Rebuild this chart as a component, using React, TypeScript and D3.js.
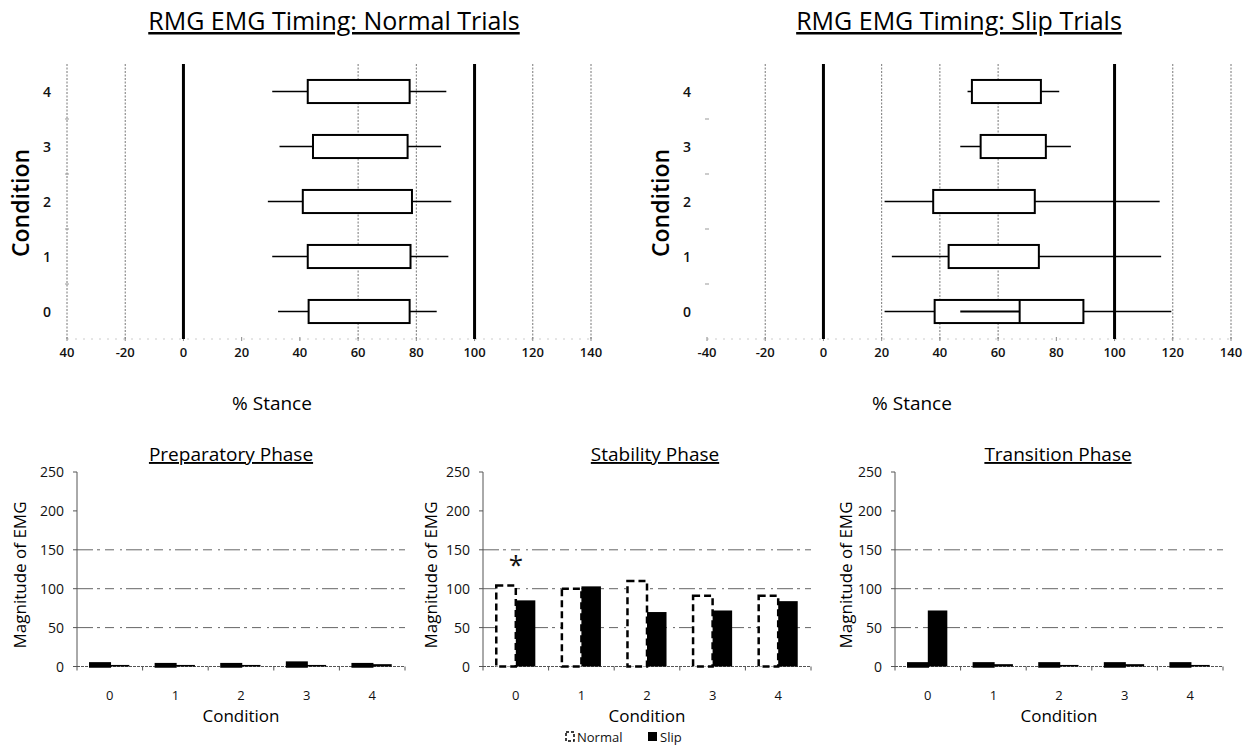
import React from 'react';
import * as d3 from 'd3';

// ---------- DATA ----------
const conditions = [0, 1, 2, 3, 4];
const stanceTicks = [-40, -20, 0, 20, 40, 60, 80, 100, 120, 140];

// Normal trials (box plot: whisker min, Q1, Q3, whisker max)
const normalMin = [32.5, 30.5, 29, 33, 30.5];
const normalQ1 = [43, 42.7, 41, 44.5, 42.7];
const normalMedian: (number | null)[] = [null, null, null, null, null];
const normalQ3 = [77.7, 78, 78.5, 77, 77.7];
const normalMax = [87, 91, 92, 88.5, 90.3];
const normalInner: ([number, number] | null)[] = [null, null, null, null, null];

// Slip trials
const slipMin = [21, 23.5, 21, 47, 49.5];
const slipQ1 = [38.2, 43, 37.7, 54, 51];
const slipMedian: (number | null)[] = [67.4, null, null, null, null];
const slipQ3 = [89.3, 74, 72.6, 76.4, 74.7];
const slipMax = [119.5, 116, 115.5, 85, 81];
const slipInner: ([number, number] | null)[] = [[47, 67.4], null, null, null, null];

const normalGrid = [-40, -20, 60, 80, 120, 140];
const slipGrid = [-20, 20, 40, 60, 120, 140];
const boldLines = [0, 100];

// Magnitude of EMG bar charts
const emgTicks = [0, 50, 100, 150, 200, 250];
const emgGrid = [50, 100, 150];
const seriesNames = ['Normal', 'Slip'];
const prepNormal = [4, 3, 3, 5, 3];
const prepSlip = [2, 2, 2, 2, 3];
const stabNormal = [104, 100, 110, 91, 91];
const stabSlip = [85, 103, 70, 72, 84];
const transNormal = [4, 4, 4, 4, 4];
const transSlip = [72, 3, 2, 3, 2];

const FONT = "'Open Sans', sans-serif";
const INK = '#111';

type TimingProps = {
  left: number; right: number; title: string; titleX: number;
  condX: number; stanceX: number;
  mins: number[]; q1s: number[]; medians: (number | null)[]; q3s: number[]; maxs: number[];
  inner: ([number, number] | null)[]; grid: number[]; minusOk: boolean;
};

function TimingPanel(p: TimingProps) {
  const x = d3.scaleLinear().domain([-40, 140]).range([p.left, p.right]);
  const y = d3.scaleLinear().domain([-0.5, 4.5]).range([339, 64]);
  const half = y(0) - y(0.21);
  const yTop = y(4.5), yBot = y(-0.5);
  return (
    <g>
      <text x={p.titleX} y={30} textAnchor="middle" fontSize={25} fontFamily={FONT}
        fill="#000" textDecoration="underline">{p.title}</text>
      {p.grid.map((v) => (
        <line key={'g' + v} x1={x(v)} x2={x(v)} y1={yTop} y2={yBot}
          stroke="#777" strokeWidth={1} strokeDasharray="2,1.5" />
      ))}
      <line x1={x(-40)} x2={x(140)} y1={yBot} y2={yBot} stroke="#ccc" strokeWidth={1} strokeDasharray="2,6" />
      {stanceTicks.map((v) => (
        <line key={'t' + v} x1={x(v)} x2={x(v)} y1={yBot - 2} y2={yBot + 2} stroke="#888" strokeWidth={1} />
      ))}
      {[0.5, 1.5, 2.5, 3.5].map((v) => (
        <line key={'m' + v} x1={x(-40) - 2} x2={x(-40) + 2} y1={y(v)} y2={y(v)} stroke="#999" strokeWidth={1} />
      ))}
      {boldLines.map((v) => (
        <line key={'b' + v} x1={x(v)} x2={x(v)} y1={yTop} y2={yBot} stroke="#000" strokeWidth={3} />
      ))}
      {conditions.map((c, i) => {
        const cy = y(c);
        return (
          <g key={'box' + c}>
            <line x1={x(p.mins[i])} x2={x(p.q1s[i])} y1={cy} y2={cy} stroke="#000" strokeWidth={1.5} />
            <line x1={x(p.q3s[i])} x2={x(p.maxs[i])} y1={cy} y2={cy} stroke="#000" strokeWidth={1.5} />
            <rect x={x(p.q1s[i])} y={cy - half} width={x(p.q3s[i]) - x(p.q1s[i])} height={half * 2}
              fill="#fff" stroke="#000" strokeWidth={2} />
            {p.medians[i] != null && (
              <line x1={x(p.medians[i] as number)} x2={x(p.medians[i] as number)} y1={cy - half} y2={cy + half}
                stroke="#000" strokeWidth={2} />
            )}
            {p.inner[i] && (
              <line x1={x(p.inner[i]![0])} x2={x(p.inner[i]![1])} y1={cy} y2={cy} stroke="#000" strokeWidth={2} />
            )}
          </g>
        );
      })}
      {stanceTicks.map((v) => (
        <text key={'xl' + v} x={x(v)} y={357} textAnchor="middle" fontSize={13} fontWeight={600}
          fontFamily={FONT} fill={INK}>
          {!p.minusOk && v === -40 ? String(-v) : String(v)}
        </text>
      ))}
      {conditions.map((c) => (
        <text key={'yl' + c} x={x(-40) - 20} y={y(c) + 5} textAnchor="middle" fontSize={14} fontWeight={600}
          fontFamily={FONT} fill={INK}>
          {c}
        </text>
      ))}
      <text transform={`translate(${p.condX},203) rotate(-90)`} textAnchor="middle" dominantBaseline="central"
        fontSize={23} fontWeight={600} fontFamily={FONT} fill="#000">Condition</text>
      <text x={p.stanceX} y={410} textAnchor="middle" fontSize={19} fontFamily={FONT} fill="#000">% Stance</text>
    </g>
  );
}

type BarProps = {
  left: number; right: number; title: string; titleX: number; ylabX: number;
  normal: number[]; slip: number[]; legend?: boolean; star?: boolean;
};

function BarPanel(p: BarProps) {
  const y = d3.scaleLinear().domain([0, 250]).range([666.5, 472]);
  const x0 = d3.scaleBand<number>().domain(conditions).range([p.left, p.right]).padding(0);
  const x1 = d3.scaleBand<string>().domain(seriesNames).range([0, x0.bandwidth()]).paddingInner(0).paddingOuter(0.68);
  const bw = x1.bandwidth();
  return (
    <g>
      <text x={p.titleX} y={461} textAnchor="middle" fontSize={19} fontFamily={FONT} fill="#000"
        textDecoration="underline">{p.title}</text>
      {emgGrid.map((v) => (
        <line key={'g' + v} x1={p.left} x2={p.right} y1={y(v)} y2={y(v)} stroke="#666" strokeWidth={1}
          strokeDasharray="16,4,3,5,9,6,2,4" />
      ))}
      <line x1={p.left} x2={p.left} y1={y(0)} y2={y(250)} stroke="#555" strokeWidth={1} />
      <line x1={p.left} x2={p.right} y1={y(0)} y2={y(0)} stroke="#555" strokeWidth={1} strokeDasharray="3,1" />
      {emgTicks.map((v) => (
        <g key={'yt' + v}>
          <line x1={p.left - 4} x2={p.left} y1={y(v)} y2={y(v)} stroke="#555" strokeWidth={1} />
          <text x={p.left - 13} y={y(v) + 5} textAnchor="end" fontSize={14} fontFamily={FONT} fill={INK}>{v}</text>
        </g>
      ))}
      {[...conditions, conditions.length].map((c) => {
        const xx = c < conditions.length ? (x0(c) as number) : p.right;
        return <line key={'xt' + c} x1={xx} x2={xx} y1={y(0)} y2={y(0) + 4} stroke="#555" strokeWidth={1} />;
      })}
      {conditions.map((c, i) => {
        const gx = x0(c) as number;
        const nx = gx + (x1('Normal') as number);
        const sx = gx + (x1('Slip') as number);
        const nh = y(0) - y(p.normal[i]);
        return (
          <g key={'bar' + c}>
            <rect x={nx} y={y(p.normal[i])} width={bw} height={nh} fill={nh < 8 ? '#000' : '#fff'} stroke="#000"
              strokeWidth={2.5} strokeDasharray={nh < 8 ? undefined : '7,4'} />
            <rect x={sx} y={y(p.slip[i])} width={bw} height={y(0) - y(p.slip[i])} fill="#000" />
            <text x={gx + x0.bandwidth() / 2} y={700} textAnchor="middle" fontSize={13} fontFamily={FONT} fill={INK}>{c}</text>
          </g>
        );
      })}
      {p.star && (
        <text x={(x0(0) as number) + x0.bandwidth() / 2} y={y(stabNormal[0]) - 12} textAnchor="middle"
          fontSize={26} fontFamily={FONT} fill={INK}>*</text>
      )}
      <text x={(p.left + p.right) / 2} y={722} textAnchor="middle" fontSize={17} fontFamily={FONT} fill="#000">Condition</text>
      <text transform={`translate(${p.ylabX},575) rotate(-90)`} textAnchor="middle" dominantBaseline="central"
        fontSize={17} fontFamily={FONT} fill="#000">Magnitude of EMG</text>
      {p.legend && (
        <g>
          <rect x={566} y={732} width={8} height={9} fill="#fff" stroke="#000" strokeWidth={1.5} strokeDasharray="3,2" />
          <text x={577} y={742} fontSize={13} fontFamily={FONT} fill={INK}>Normal</text>
          <rect x={648} y={732} width={9} height={9} fill="#000" />
          <text x={660} y={742} fontSize={13} fontFamily={FONT} fill={INK}>Slip</text>
        </g>
      )}
    </g>
  );
}

export default function App() {
  return (
    <svg width={1250} height={748} style={{ position: 'absolute', left: 0, top: 0, background: '#fff' }}>
      <rect x={0} y={0} width={1250} height={748} fill="#fff" />
      <TimingPanel left={67} right={591} title="RMG EMG Timing: Normal Trials" titleX={334} condX={20}
        stanceX={272} mins={normalMin} q1s={normalQ1} medians={normalMedian} q3s={normalQ3} maxs={normalMax}
        inner={normalInner} grid={normalGrid} minusOk={false} />
      <TimingPanel left={707} right={1231} title="RMG EMG Timing: Slip Trials" titleX={959} condX={660}
        stanceX={912} mins={slipMin} q1s={slipQ1} medians={slipMedian} q3s={slipQ3} maxs={slipMax}
        inner={slipInner} grid={slipGrid} minusOk={true} />
      <BarPanel left={77} right={405} title="Preparatory Phase" titleX={231} ylabX={19}
        normal={prepNormal} slip={prepSlip} />
      <BarPanel left={483} right={811} title="Stability Phase" titleX={655} ylabX={430}
        normal={stabNormal} slip={stabSlip} legend star />
      <BarPanel left={895} right={1223} title="Transition Phase" titleX={1058} ylabX={845}
        normal={transNormal} slip={transSlip} />
    </svg>
  );
}
